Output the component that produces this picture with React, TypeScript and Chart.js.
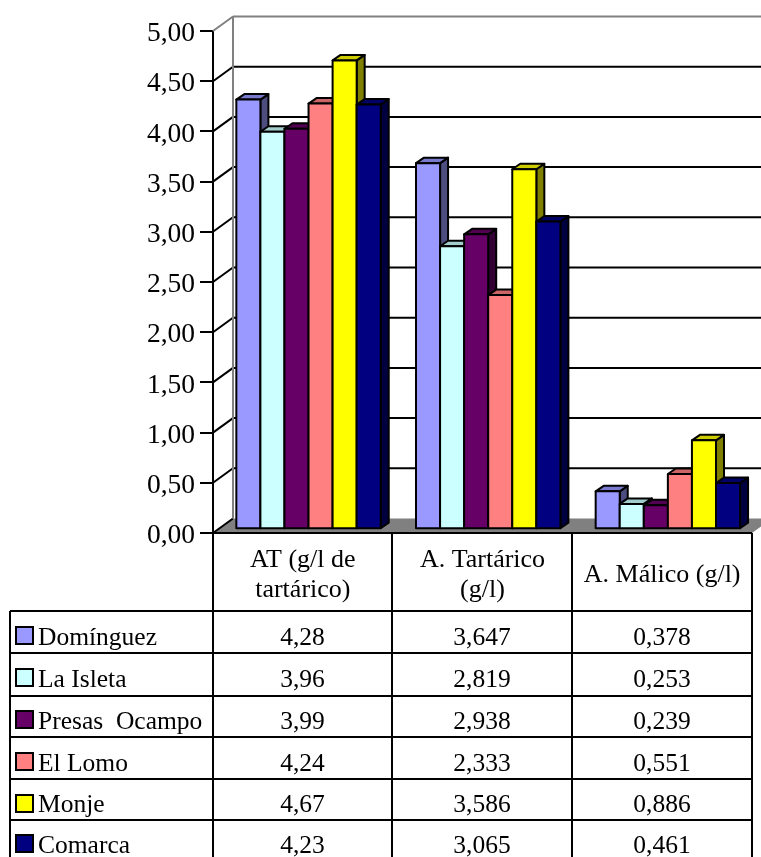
import React, { useEffect, useRef } from "react";
import { Chart, registerables } from "chart.js";

Chart.register(...registerables);

const categories = [["AT (g/l de", "tartárico)"], ["A. Tartárico", "(g/l)"], ["A. Málico (g/l)"]];
const seriesNames = ["Domínguez", "La Isleta", "Presas  Ocampo", "El Lomo", "Monje", "Comarca"];
const dominguez = [4.28, 3.647, 0.378];
const laIsleta = [3.96, 2.819, 0.253];
const presasOcampo = [3.99, 2.938, 0.239];
const elLomo = [4.24, 2.333, 0.551];
const monje = [4.67, 3.586, 0.886];
const comarca = [4.23, 3.065, 0.461];
const seriesValues = [dominguez, laIsleta, presasOcampo, elLomo, monje, comarca];
const seriesColors = ["#9999FF", "#CCFFFF", "#660066", "#FF8080", "#FFFF00", "#000080"];
const valueDecimals = [2, 3, 3];
const yTicks = [0, 0.5, 1, 1.5, 2, 2.5, 3, 3.5, 4, 4.5, 5];

const FONT = '"Liberation Serif", "Times New Roman", serif';
const WALL = { dx: 20, dy: -14.5 };
const BAR_SHIFT = { dx: 5.7, dy: -3.7 };
const DEPTH = { dx: 8, dy: -5.5 };
const COL_X = [213, 392, 572, 752];
const ROW_Y = [611, 653, 696, 737, 779, 820];
const TEXT_BASE = [645, 687, 729, 771, 812, 853];
const KEY_Y = [627, 669, 711, 753, 795, 835];

function shade(hex: string, f: number) {
  const n = parseInt(hex.slice(1), 16);
  const c = [(n >> 16) & 255, (n >> 8) & 255, n & 255].map((v) => Math.round(v * f));
  return `rgb(${c[0]},${c[1]},${c[2]})`;
}

function poly(ctx: CanvasRenderingContext2D, pts: number[][], fill: string) {
  ctx.beginPath();
  pts.forEach((p, i) => (i ? ctx.lineTo(p[0], p[1]) : ctx.moveTo(p[0], p[1])));
  ctx.closePath();
  ctx.fillStyle = fill;
  ctx.fill();
  ctx.stroke();
}

const wallPlugin = {
  id: "wall",
  beforeDatasetsDraw(chart: any) {
    const { ctx, scales } = chart;
    const y = scales.y;
    const left = scales.x.left;
    const right = scales.x.right;
    const y0 = y.getPixelForValue(0);
    const y5 = y.getPixelForValue(5);
    ctx.save();
    ctx.lineWidth = 2;
    ctx.fillStyle = "#808080";
    ctx.beginPath();
    ctx.moveTo(left, y0);
    ctx.lineTo(left + WALL.dx, y0 + WALL.dy);
    ctx.lineTo(right + WALL.dx, y0 + WALL.dy);
    ctx.lineTo(right, y0);
    ctx.closePath();
    ctx.fill();
    yTicks.forEach((v) => {
      const p = y.getPixelForValue(v);
      ctx.strokeStyle = v === 5 ? "#808080" : "#000000";
      if (v > 0) {
        ctx.beginPath();
        ctx.moveTo(left + WALL.dx, p + WALL.dy);
        ctx.lineTo(chart.width, p + WALL.dy);
        ctx.stroke();
      }
      ctx.beginPath();
      ctx.moveTo(left, p);
      ctx.lineTo(left + WALL.dx, p + WALL.dy);
      ctx.stroke();
    });
    ctx.strokeStyle = "#808080";
    ctx.beginPath();
    ctx.moveTo(left + WALL.dx, y5 + WALL.dy);
    ctx.lineTo(left + WALL.dx, y0 + WALL.dy);
    ctx.stroke();
    ctx.restore();

    // Bars left to right, so each bar covers the side face of the one before it.
    seriesColors.forEach((color, i) => {
      const meta = chart.getDatasetMeta(i);
      ctx.save();
      ctx.translate(BAR_SHIFT.dx, BAR_SHIFT.dy);
      ctx.lineWidth = 2;
      ctx.lineJoin = "round";
      ctx.strokeStyle = "#000000";
      meta.data.forEach((el: any) => {
        const x0 = el.x - el.width / 2;
        const x1 = el.x + el.width / 2;
        const t = el.y;
        const b = el.base;
        poly(ctx, [[x1, t], [x1 + DEPTH.dx, t + DEPTH.dy], [x1 + DEPTH.dx, b + DEPTH.dy], [x1, b]], shade(color, 0.5));
        poly(ctx, [[x0, t], [x1, t], [x1 + DEPTH.dx, t + DEPTH.dy], [x0 + DEPTH.dx, t + DEPTH.dy]], shade(color, 0.8));
        el.draw(ctx);
        ctx.strokeRect(x0, t, x1 - x0, b - t);
      });
      ctx.restore();
    });
  },
  beforeDatasetDraw() {
    return false;
  },
  afterDraw(chart: any) {
    const { ctx, height } = chart;
    const y0 = chart.scales.y.getPixelForValue(0);
    ctx.save();
    ctx.strokeStyle = "#000000";
    ctx.lineWidth = 2;
    const line = (a: number, b: number, c: number, d: number) => {
      ctx.beginPath();
      ctx.moveTo(a, b);
      ctx.lineTo(c, d);
      ctx.stroke();
    };
    line(COL_X[0], y0, COL_X[3], y0);
    COL_X.forEach((x) => line(x, y0, x, height));
    line(10, ROW_Y[0], 10, height);
    ROW_Y.forEach((r) => line(10, r, COL_X[3], r));
    ctx.fillStyle = "#000000";
    ctx.font = `25.5px ${FONT}`;
    ctx.textBaseline = "alphabetic";
    seriesNames.forEach((name, i) => {
      ctx.fillStyle = seriesColors[i];
      ctx.fillRect(16, KEY_Y[i], 17, 17);
      ctx.strokeRect(16, KEY_Y[i], 17, 17);
      ctx.fillStyle = "#000000";
      ctx.textAlign = "left";
      ctx.fillText(name, 38, TEXT_BASE[i]);
      ctx.textAlign = "center";
      seriesValues[i].forEach((v, c) => {
        const label = v.toFixed(valueDecimals[c]).replace(".", ",");
        ctx.fillText(label, (COL_X[c] + COL_X[c + 1]) / 2, TEXT_BASE[i]);
      });
    });
    ctx.restore();
  },
};

export default function App() {
  const ref = useRef<HTMLCanvasElement>(null);
  useEffect(() => {
    const chart = new Chart(ref.current!, {
      type: "bar",
      plugins: [wallPlugin],
      data: {
        labels: categories,
        datasets: seriesNames.map((name, i) => ({
          label: name.replace("  ", " "),
          data: seriesValues[i],
          backgroundColor: seriesColors[i],
          borderWidth: 0,
          categoryPercentage: 144.4 / 179.67,
          barPercentage: 1,
        })),
      } as any,
      options: {
        responsive: false,
        animation: false,
        devicePixelRatio: 1,
        layout: { padding: { top: 31, right: 9, left: 0, bottom: 0 } },
        plugins: { legend: { display: false }, tooltip: { enabled: false }, title: { display: false } },
        scales: {
          x: {
            grid: { display: false, drawTicks: false },
            border: { display: false },
            afterFit: (s: any) => {
              s.height = 857 - 533;
              s.paddingLeft = 0;
              s.paddingRight = 0;
            },
            ticks: {
              color: "#000000",
              font: { family: FONT, size: 26, lineHeight: 1.16 },
              padding: 27,
              maxRotation: 0,
              minRotation: 0,
              autoSkip: false,
              crossAlign: "center",
            },
          },
          y: {
            min: 0,
            max: 5,
            afterFit: (s: any) => {
              s.width = 213;
            },
            afterBuildTicks: (s: any) => {
              s.ticks = yTicks.map((value) => ({ value }));
            },
            border: { display: true, color: "#000000", width: 2 },
            grid: { drawOnChartArea: false, drawTicks: true, tickLength: 13, color: "#000000", lineWidth: 2 },
            ticks: {
              color: "#000000",
              font: { family: FONT, size: 27.5 },
              padding: 5,
              labelOffset: 3,
              callback: (v: any) => Number(v).toFixed(2).replace(".", ","),
            },
          },
        },
      } as any,
    });
    return () => chart.destroy();
  }, []);
  return (
    <canvas
      ref={ref}
      width={761}
      height={857}
      style={{ position: "absolute", left: 0, top: 0, display: "block", background: "#ffffff" }}
    />
  );
}
